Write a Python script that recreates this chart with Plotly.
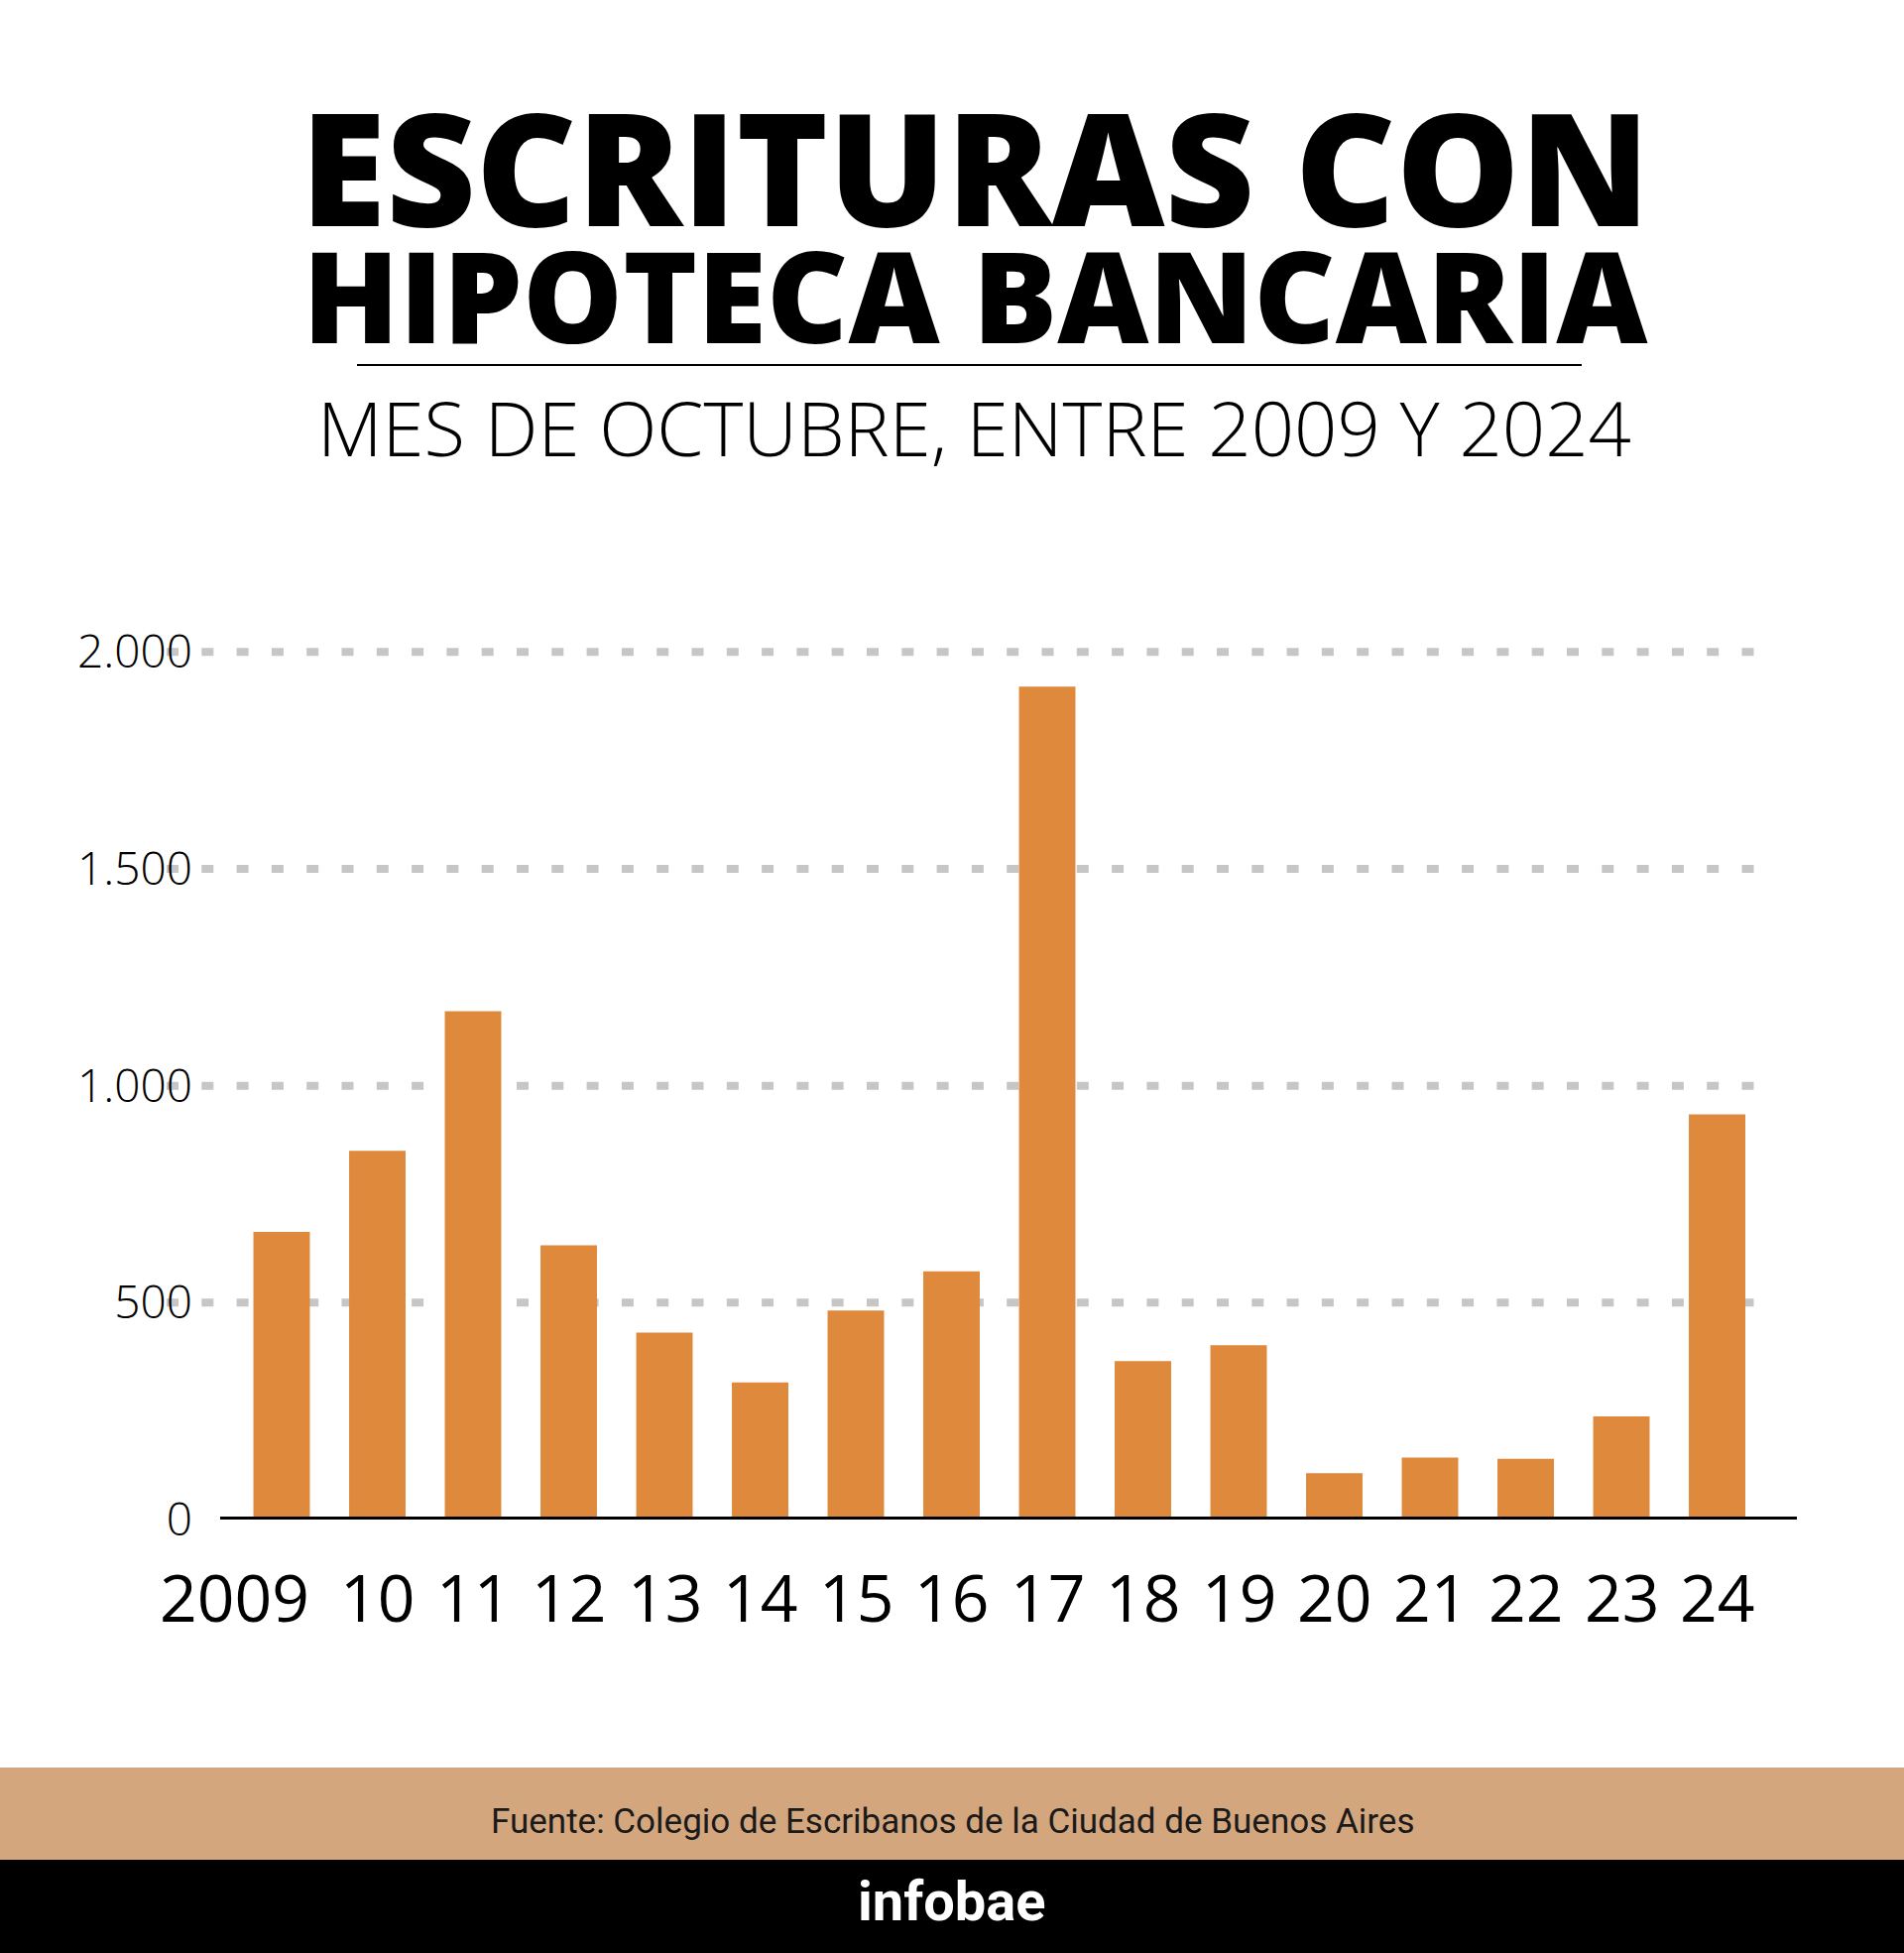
import plotly.graph_objects as go

# data
years = ["2009", "2010", "2011", "2012", "2013", "2014", "2015", "2016",
         "2017", "2018", "2019", "2020", "2021", "2022", "2023", "2024"]
year_labels = ["2009", "10", "11", "12", "13", "14", "15", "16",
               "17", "18", "19", "20", "21", "22", "23", "24"]
escrituras = [663, 850, 1172, 632, 431, 316, 482, 572,
              1920, 365, 402, 107, 143, 140, 238, 934]
grid_values = [500, 1000, 1500, 2000]
y_tick_vals = [0, 500, 1000, 1500, 2000]
y_tick_text = ["0", "500", "1.000", "1.500", "2.000"]

W, H = 1920, 1969
BAR_COLOR = "#DE893C"
GRID_COLOR = "#C6C6C6"
BAND_COLOR = "#D4A67E"
# the first label is nudged left in the original so it clears "10"
label_shift = {"2009": -48}


def px_x(x):
    return x / W


def px_y(y):
    return 1 - y / H


fig = go.Figure()
fig.add_trace(go.Bar(
    x=years,
    y=escrituras,
    marker=dict(color=BAR_COLOR, line=dict(width=0)),
    hoverinfo="x+y",
))

# dotted gridlines (extend left under the labels like the original)
shapes = []
for v in grid_values:
    shapes.append(dict(
        type="line", xref="paper", yref="y",
        x0=px_x(168), x1=px_x(1772), y0=v, y1=v,
        line=dict(color=GRID_COLOR, width=8, dash="12px,23.3px"),
        layer="below",
    ))
# baseline
shapes.append(dict(
    type="line", xref="paper", yref="y",
    x0=px_x(222), x1=px_x(1812), y0=0, y1=0,
    line=dict(color="black", width=6), layer="above",
))
# divider under the title
shapes.append(dict(
    type="line", xref="paper", yref="paper",
    x0=px_x(360), x1=px_x(1595), y0=px_y(368), y1=px_y(368),
    line=dict(color="black", width=2),
))
# footer bands
shapes.append(dict(
    type="rect", xref="paper", yref="paper",
    x0=0, x1=1, y0=px_y(1875), y1=px_y(1782),
    fillcolor=BAND_COLOR, line=dict(width=0), layer="below",
))
shapes.append(dict(
    type="rect", xref="paper", yref="paper",
    x0=0, x1=1, y0=0, y1=px_y(1875),
    fillcolor="black", line=dict(width=0), layer="below",
))

title_text = ("<span style='font-size:157px'>ESCRITURAS CON</span><br>"
              "<span style='font-size:127px'>HIPOTECA BANCARIA</span>")

annotations = [
    dict(text=title_text, x=px_x(983), y=px_y(221),
         font=dict(family="Open Sans", size=91, color="black", weight=800)),
    dict(text="MES DE OCTUBRE, ENTRE 2009 Y 2024", x=px_x(982), y=px_y(431),
         font=dict(family="Open Sans", size=76, color="black", weight=300)),
    dict(text="Fuente: Colegio de Escribanos de la Ciudad de Buenos Aires",
         x=px_x(960), y=px_y(1836),
         font=dict(family="Roboto", size=35, color="#1A1A1A")),
    dict(text="infobae", x=px_x(960), y=px_y(1917),
         font=dict(family="Roboto", size=56, color="white", weight=700)),
]
for a in annotations:
    a.update(xref="paper", yref="paper")

# year labels under the bars (category axes take the category index here)
for i, (yr, lab) in enumerate(zip(years, year_labels)):
    annotations.append(dict(
        text=lab, x=i, xref="x", y=px_y(1609), yref="paper",
        xshift=label_shift.get(yr, 0),
        font=dict(family="Open Sans", size=66, color="black"),
    ))

for a in annotations:
    a.update(showarrow=False, xanchor="center", yanchor="middle")

fig.update_layout(
    width=W, height=H,
    margin=dict(l=0, r=0, t=0, b=0, autoexpand=False),
    paper_bgcolor="white",
    plot_bgcolor="rgba(0,0,0,0)",
    showlegend=False,
    bargap=0.41,
    shapes=shapes,
    annotations=annotations,
    xaxis=dict(
        type="category",
        domain=[px_x(222), px_x(1812)],
        range=[-0.6425, 15.834],
        showticklabels=False,
        showgrid=False, zeroline=False, showline=False,
        ticks="", automargin=False, fixedrange=True,
    ),
    yaxis=dict(
        domain=[px_y(1532), px_y(640)],
        range=[0, (1532 - 640) / 0.43735],
        tickvals=y_tick_vals,
        ticktext=y_tick_text,
        tickfont=dict(family="Open Sans", size=46, color="black", weight=300),
        showgrid=False, zeroline=False, showline=False,
        ticks="", ticklabelstandoff=27,
        automargin=False, fixedrange=True,
    ),
)

# the default page keeps an 8px body margin; drop it so the figure fills the window
fig.write_html("out.html", config={"displayModeBar": False},
               post_script="document.body.style.margin='0';")
